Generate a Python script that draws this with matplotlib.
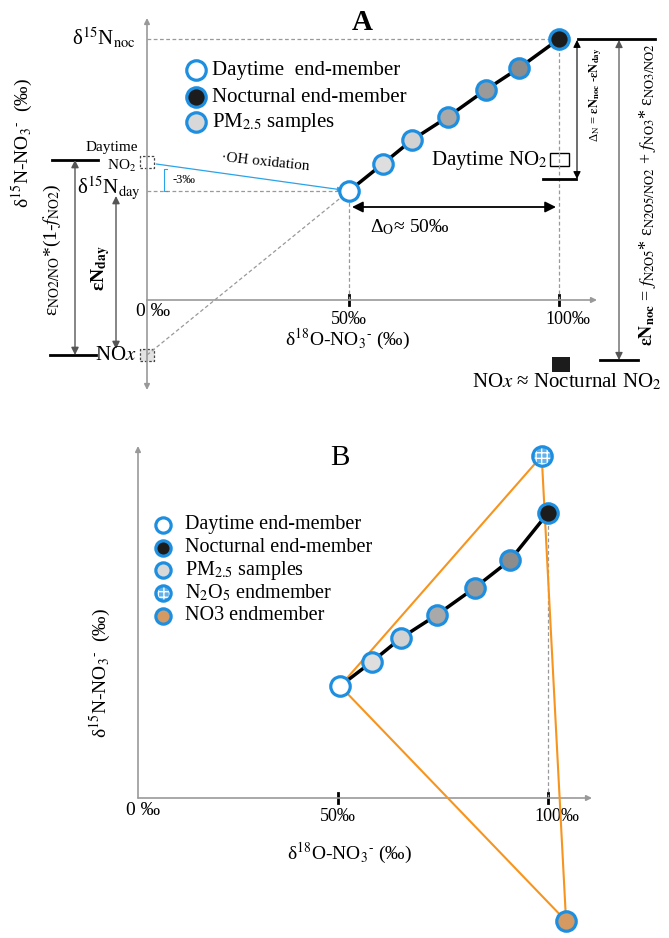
import matplotlib.pyplot as plt
from matplotlib.patches import Rectangle

plt.rcParams['font.family'] = ['Liberation Serif', 'DejaVu Serif']
plt.rcParams['mathtext.fontset'] = 'stix'

# panel A: schematic d18O (x) vs d15N (y)
a_day = [50, 10.9]
a_noc = [100, 26.1]
a_sample_x = [58, 65, 73.5, 82.5, 90.5]
a_sample_y = [13.6, 16.0, 18.3, 21.0, 23.2]
a_no2_day = 13.8
a_nox = -5.5

# panel B
b_day = [50.5, 11.2]
b_noc = [100, 28.5]
b_sample_x = [58, 65, 73.5, 82.5, 91]
b_sample_y = [13.6, 16.0, 18.3, 21.0, 23.8]
b_n2o5 = [98.5, 34.2]
b_no3 = [104.3, -12.3]

x_ticks = [50, 100]
x_tick_labels = ['50‰', '100‰']
sample_colors = ['#dedede', '#d2d2d2', '#a9a9a9', '#9a9a9a', '#8c8c8c']

legend_a = ['Daytime  end-member', 'Nocturnal end-member', 'PM$_{2.5}$ samples']
legend_b = ['Daytime end-member', 'Nocturnal end-member', 'PM$_{2.5}$ samples',
            'N$_2$O$_5$ endmember', 'NO3 endmember']

BLUE = '#1e8fe0'
GREY = '#999999'
ORANGE = '#f7941d'
XLABEL = 'δ$^{18}$O-NO$_3$$^{\\text{-}}$ (‰)'
YLABEL = 'δ$^{15}$N-NO$_3$$^{\\text{-}}$  (‰)'


def pa(px, py):
    return (px - 139) / 4.2, (300 - py) / 10


def pb(px, py):
    return (px - 128) / 4.2, (798 - py) / 10


def arrow(ax, p0, p1, style='<|-|>', color='black', lw=1.0, ms=12):
    ax.annotate('', xy=p1, xytext=p0,
                arrowprops=dict(arrowstyle=style, color=color, lw=lw,
                                mutation_scale=ms, shrinkA=0, shrinkB=0))


def marker(ax, x, y, face, size=14, **kw):
    ax.plot(x, y, 'o', ms=size, mfc=face, mec=BLUE, mew=2.3, zorder=5, **kw)


fig = plt.figure(figsize=(6.69, 9.38), dpi=100)

# ---------------- panel A ----------------
ax = fig.add_axes([0, 538 / 938, 1, 400 / 938])
ax.set_xlim(pa(0, 0)[0], pa(669, 0)[0])
ax.set_ylim(pa(0, 400)[1], pa(0, 0)[1])
ax.axis('off')

x0 = pa(147, 0)[0]
arrow(ax, pa(147, 300), pa(147, 18), '-|>', GREY, 1.2, 8)
arrow(ax, pa(147, 300), pa(147, 390), '-|>', GREY, 1.2, 8)
arrow(ax, (x0, 0), pa(597, 300), '-|>', GREY, 1.2, 8)
for t, lab in zip(x_ticks, x_tick_labels):
    ax.plot([t, t], [-0.5, 0.5], color='black', lw=2)
    ax.text(t + (2 if t == 100 else 0), pa(0, 319)[1], lab, ha='center', va='center', fontsize=13)
ax.text(*pa(153, 312), '0 ‰', ha='center', va='center', fontsize=14)
ax.text(*pa(348, 339), XLABEL, ha='center', va='center', fontsize=14)
ax.text(*pa(22, 143), YLABEL, ha='center', va='center', fontsize=14, rotation=90)
ax.text(*pa(362, 22), 'A', ha='center', va='center', fontsize=21, fontweight='bold')

dash = dict(color=GREY, ls=(0, (3, 2)), lw=0.9)
ax.plot([x0, a_noc[0]], [a_noc[1], a_noc[1]], **dash)
ax.plot([a_noc[0], a_noc[0]], [0, a_noc[1]], **dash)
ax.plot([x0, a_day[0]], [a_day[1], a_day[1]], **dash)
ax.plot([a_day[0], a_day[0]], [0, a_day[1]], **dash)
ax.plot([x0, a_day[0]], [a_nox, a_day[1]], **dash)
ax.add_patch(Rectangle((x0 - 1.6, a_no2_day - 0.6), 3.3, 1.2, fill=False, ec='#444444', ls=(0, (2, 1.5)), lw=0.9))
ax.add_patch(Rectangle((x0 - 1.6, a_nox - 0.6), 3.3, 1.2, fc='#e2e2e2', ec='#444444', ls=(0, (2, 1.5)), lw=0.9))

ax.text(*pa(136, 38), 'δ$^{15}$N$_{\\rm noc}$', ha='right', va='center', fontsize=15)
ax.text(pa(141, 0)[0], a_day[1] + 0.3, 'δ$^{15}$N$_{\\rm day}$', ha='right', va='center', fontsize=15)
ax.text(*pa(112, 147), 'Daytime', ha='center', va='center', fontsize=11)
ax.text(*pa(122, 166), 'NO$_2$', ha='center', va='center', fontsize=11)

# left brackets
ax.plot([pa(52, 0)[0], pa(98, 0)[0]], [a_no2_day + 0.2, a_no2_day + 0.2], color='black', lw=2)
ax.plot([pa(50, 0)[0], pa(96, 0)[0]], [a_nox, a_nox], color='black', lw=2)
arrow(ax, (pa(75, 0)[0], a_no2_day + 0.2), (pa(75, 0)[0], a_nox), color='#555555', ms=11)
arrow(ax, (pa(116, 0)[0], a_day[1] - 0.5), (pa(116, 0)[0], a_nox + 0.6), color='#555555', ms=11)
ax.text(*pa(116, 355), 'NO$x$', ha='center', va='center', fontsize=15)
ax.text(*pa(52, 250), 'ε$_{\\rm NO2/NO}$*(1-$f_{\\rm NO2}$)', ha='center', va='center', fontsize=14, rotation=90)
ax.text(*pa(101, 268), 'εN$_{\\mathbf{day}}$', ha='center', va='center', fontsize=14, rotation=90, fontweight='bold')

# OH oxidation
arrow(ax, (x0 + 2.2, a_no2_day - 0.2), (a_day[0] - 1.5, a_day[1] + 0.1), '-|>', '#2aa3e8', 0.9, 7)
ax.text(*pa(265, 162), '·OH oxidation', ha='center', va='center', fontsize=11, rotation=-6)
bx = pa(164, 0)[0]
ax.plot([bx + 0.6, bx, bx, bx + 0.6], [a_no2_day - 0.7, a_no2_day - 0.7, a_day[1], a_day[1]], color='#2aa3e8', lw=0.8)
ax.text(*pa(184, 180), '-3‰', ha='center', va='center', fontsize=9)

# mixing line and points
ax.plot([a_day[0]] + a_sample_x + [a_noc[0]], [a_day[1]] + a_sample_y + [a_noc[1]], color='black', lw=2.5, zorder=4)
marker(ax, a_day[0], a_day[1], 'white')
for x, y, c in zip(a_sample_x, a_sample_y, sample_colors):
    marker(ax, x, y, c)
marker(ax, a_noc[0], a_noc[1], '#1c1c1c')

# legend A
for i, (lab, face) in enumerate(zip(legend_a, ['white', '#1c1c1c', '#d8d8d8'])):
    py = [70, 97, 122][i]
    marker(ax, pa(196, py)[0], pa(196, py)[1], face)
    ax.text(*pa(212, py), lab, ha='left', va='center', fontsize=15)

# right side annotations
ax.text(*pa(548, 160), 'Daytime NO$_2$', ha='right', va='center', fontsize=15)
ax.add_patch(Rectangle(pa(550, 166), 19 / 4.2, 1.3, fill=False, ec='black', lw=1))
ax.plot([pa(543, 0)[0], pa(576, 0)[0]], [pa(0, 179)[1]] * 2, color='black', lw=2)
ax.plot([pa(578, 0)[0], pa(655, 0)[0]], [a_noc[1], a_noc[1]], color='black', lw=2)
arrow(ax, (pa(577, 0)[0], a_noc[1] - 0.1), pa(577, 179), color='black', lw=0.8, ms=11)
ax.text(*pa(596, 95), 'Δ$_{\\rm N}$ = $\\mathbf{εN_{noc}}$ -$\\mathbf{εN_{day}}$', ha='center', va='center', fontsize=9, rotation=90)
arrow(ax, (pa(619, 0)[0], a_noc[1] - 0.1), pa(619, 360), color='#555555', lw=0.9, ms=11)
ax.plot([pa(600, 0)[0], pa(638, 0)[0]], [pa(0, 360)[1]] * 2, color='black', lw=2)
ax.text(*pa(647, 195), '$\\mathbf{εN_{noc}}$ = $f_{\\rm N2O5}$* ε$_{\\rm N2O5/NO2}$ + $f_{\\rm NO3}$* ε$_{\\rm NO3/NO2}$',
        ha='center', va='center', fontsize=13, rotation=90)
ax.add_patch(Rectangle(pa(552, 372), 18 / 4.2, 1.5, fc='#1c1c1c', ec='none'))
ax.text(*pa(567, 382), 'NO$x$ ≈ Nocturnal NO$_2$', ha='center', va='center', fontsize=15)
arrow(ax, pa(352, 207), pa(556, 207), color='black', lw=1.3, ms=16)
ax.text(*pa(410, 227), 'Δ$_{\\rm O}$≈ 50‰', ha='center', va='center', fontsize=14)

# ---------------- panel B ----------------
ax = fig.add_axes([0, 0, 1, 538 / 938])
ax.set_xlim(pb(0, 0)[0], pb(669, 0)[0])
ax.set_ylim(pb(0, 938)[1], pb(0, 400)[1])
ax.axis('off')

y0 = pb(138, 0)[0]
arrow(ax, (y0, 0), pb(138, 446), '-|>', GREY, 1.2, 8)
arrow(ax, (y0, 0), pb(592, 798), '-|>', GREY, 1.2, 8)
for t, lab in zip(x_ticks, x_tick_labels):
    ax.plot([t, t], [-0.5, 0.5], color='black', lw=2)
    ax.text(t + (2 if t == 100 else 0), pb(0, 816)[1], lab, ha='center', va='center', fontsize=13)
ax.text(*pb(143, 810), '0 ‰', ha='center', va='center', fontsize=14)
ax.text(*pb(350, 853), XLABEL, ha='center', va='center', fontsize=14)
ax.text(*pb(100, 673), YLABEL, ha='center', va='center', fontsize=14, rotation=90)
ax.text(*pb(340, 458), 'B', ha='center', va='center', fontsize=21)

ax.plot([b_noc[0], b_noc[0]], [0, b_noc[1]], **dash)
for p, q in [(b_day, b_n2o5), (b_day, b_no3), (b_n2o5, b_no3)]:
    ax.plot([p[0], q[0]], [p[1], q[1]], color=ORANGE, lw=1.5, zorder=3)
ax.plot([b_day[0]] + b_sample_x + [b_noc[0]], [b_day[1]] + b_sample_y + [b_noc[1]], color='black', lw=2.5, zorder=4)
marker(ax, b_day[0], b_day[1], 'white')
for x, y, c in zip(b_sample_x, b_sample_y, sample_colors):
    marker(ax, x, y, c)
marker(ax, b_noc[0], b_noc[1], '#1c1c1c')


def n2o5_marker(ax, x, y, size):
    ax.scatter([x], [y], s=size ** 2, c='#5fb2ec', edgecolors='white', linewidths=0, hatch='+++', zorder=6)
    ax.plot(x, y, 'o', ms=size, mfc='none', mec=BLUE, mew=2.3, zorder=7)


n2o5_marker(ax, b_n2o5[0], b_n2o5[1], 14)
marker(ax, b_no3[0], b_no3[1], '#d49a62')

legend_faces = ['white', '#1c1c1c', '#d8d8d8', 'n2o5', '#d49a62']
for lab, face, py in zip(legend_b, legend_faces, [525, 548, 570, 593, 616]):
    mx, my = pb(163, py)
    if face == 'n2o5':
        n2o5_marker(ax, mx, my, 11)
    else:
        marker(ax, mx, my, face, size=11)
    ax.text(*pb(185, py), lab, ha='left', va='center', fontsize=14.5)

fig.savefig('out.png', dpi=100)
